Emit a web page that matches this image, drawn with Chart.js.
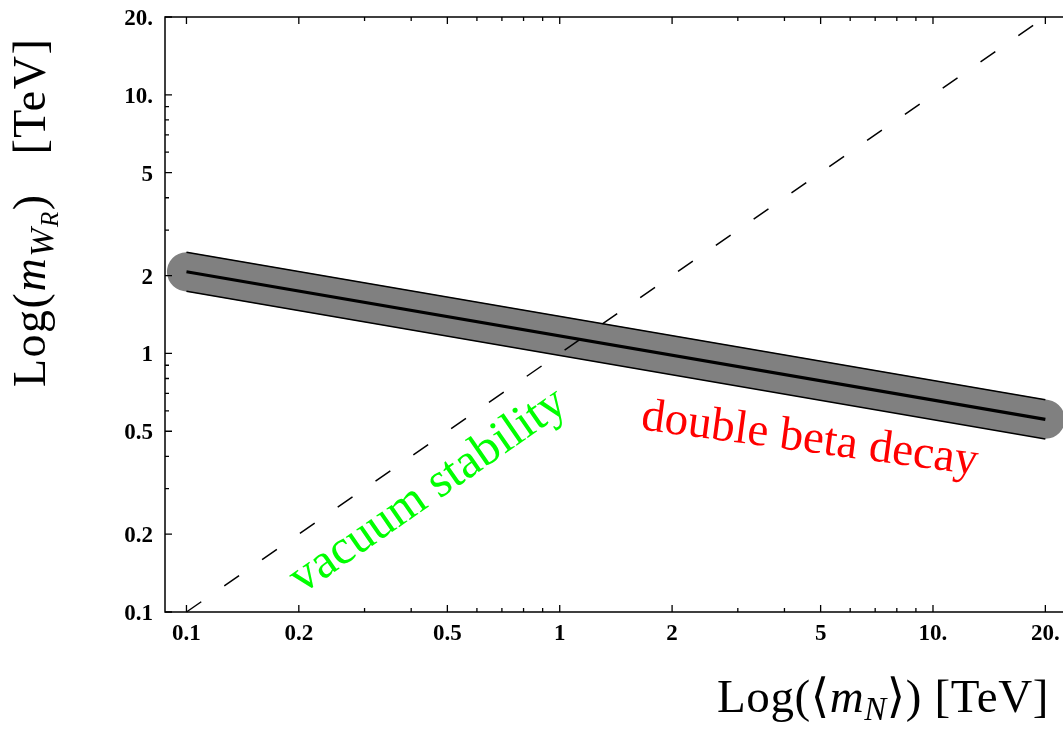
<!DOCTYPE html>
<html>
<head>
<meta charset="utf-8">
<script src="https://cdn.jsdelivr.net/npm/chart.js@4.4.1/dist/chart.umd.min.js"></script>
<style>
  html, body { margin: 0; padding: 0; background: #ffffff; overflow: hidden; }
  canvas { display: block; }
</style>
</head>
<body>
<canvas id="chart" width="1063" height="735"></canvas>
<script>
// Heavy-neutrino mass <m_N> in TeV: ends of the plotted range
const massN = [0.1, 20];
// W_R mass from neutrinoless double beta decay: central curve and band edges (TeV)
const betaCentre = [2.07, 0.556];
const betaUpper = [2.46, 0.662];
const betaLower = [1.74, 0.467];
// Vacuum stability boundary, m_WR = <m_N> (TeV)
const vacuumMass = [0.1, 20];

// Axis ticks (same on both axes)
const majorTicks = [0.1, 0.2, 0.5, 1, 2, 5, 10, 20];
const majorTickLabels = ['0.1', '0.2', '0.5', '1', '2', '5', '10.', '20.'];
const minorTicks = [0.3, 0.4, 0.6, 0.7, 0.8, 0.9, 3, 4, 6, 7, 8, 9];

// Axis limits
const xRange = [0.0876, 22.3];
const yRange = [0.1, 20];

// Region labels: text, colour, anchor (data coords), font size and tilt
const regionLabels = [
  { text: 'vacuum stability', color: '#00ff00', at: [0.204, 0.117], size: 49, followVacuum: true },
  { text: 'double beta decay', color: '#ff0000', at: [1.64, 0.509], size: 47, angle: 7.7 }
];

const pts = (xs, ys) => xs.map((v, i) => ({ x: v, y: ys[i] }));

const SERIF = '"Liberation Serif", "Times New Roman", "DejaVu Serif", serif';

function drawPieces(ctx, pieces) {
  let x = 0;
  for (const p of pieces) {
    ctx.font = p.font;
    ctx.fillText(p.text, x, p.dy || 0);
    x += ctx.measureText(p.text).width + (p.kern || 0);
  }
  return x;
}

const framePlugin = {
  id: 'frameAndText',
  afterDatasetsDraw(chart) {
    const { ctx, chartArea: a, scales: { x, y } } = chart;
    ctx.save();

    // frame: top, left, bottom (right side lies past the canvas edge)
    ctx.strokeStyle = '#000';
    ctx.lineWidth = 1.5;
    ctx.lineCap = 'butt';
    ctx.beginPath();
    ctx.moveTo(a.right + 3, a.top);
    ctx.lineTo(a.left, a.top);
    ctx.lineTo(a.left, a.bottom);
    ctx.lineTo(a.right + 3, a.bottom);
    ctx.stroke();

    // inward tick marks
    const xTick = (v, len) => {
      const px = x.getPixelForValue(v);
      ctx.moveTo(px, a.bottom); ctx.lineTo(px, a.bottom - len);
      ctx.moveTo(px, a.top); ctx.lineTo(px, a.top + len);
    };
    const yTick = (v, len) => {
      const py = y.getPixelForValue(v);
      ctx.moveTo(a.left, py); ctx.lineTo(a.left + len, py);
    };
    ctx.lineWidth = 1.3;
    ctx.beginPath();
    majorTicks.forEach(v => { xTick(v, 7); yTick(v, 7); });
    minorTicks.forEach(v => { xTick(v, 4); yTick(v, 4); });
    ctx.stroke();

    // tick labels
    ctx.fillStyle = '#000';
    ctx.font = 'bold 23px ' + SERIF;
    ctx.textBaseline = 'alphabetic';
    ctx.textAlign = 'center';
    majorTicks.forEach((v, i) => {
      ctx.fillText(majorTickLabels[i], x.getPixelForValue(v), a.bottom + 28);
    });
    ctx.textAlign = 'right';
    majorTicks.forEach((v, i) => {
      ctx.fillText(majorTickLabels[i], a.left - 12, y.getPixelForValue(v) + 8);
    });

    // axis titles
    ctx.textAlign = 'left';
    const rm = s => s + 'px ' + SERIF;
    const it = s => 'italic ' + s + 'px ' + SERIF;
    ctx.save();
    ctx.translate(717, a.bottom + 100);
    try { ctx.letterSpacing = '0.6px'; } catch (e) {}
    drawPieces(ctx, [
      { text: 'Log(', font: rm(47) },
      { text: '\u27E8', font: rm(47) },
      { text: 'm', font: it(47) },
      { text: 'N', font: it(33), dy: 8 },
      { text: '\u27E9', font: rm(47) },
      { text: ') [TeV]', font: rm(47) }
    ]);
    ctx.restore();

    ctx.save();
    ctx.translate(45, 387);
    ctx.rotate(-Math.PI / 2);
    try { ctx.letterSpacing = '1.5px'; } catch (e) {}
    drawPieces(ctx, [
      { text: 'Log(', font: rm(46) },
      { text: 'm', font: it(46) },
      { text: 'W', font: it(34), dy: 8 },
      { text: 'R', font: it(25), dy: 13 },
      { text: ')   [TeV]', font: rm(46) }
    ]);
    ctx.restore();

    // region labels
    regionLabels.forEach(lab => {
      let ang;
      if (lab.followVacuum) {
        const x0 = x.getPixelForValue(vacuumMass[0]), y0 = y.getPixelForValue(vacuumMass[0]);
        const x1 = x.getPixelForValue(vacuumMass[1]), y1 = y.getPixelForValue(vacuumMass[1]);
        ang = Math.atan2(y1 - y0, x1 - x0);
      } else {
        ang = lab.angle * Math.PI / 180;
      }
      ctx.save();
      ctx.translate(x.getPixelForValue(lab.at[0]), y.getPixelForValue(lab.at[1]));
      ctx.rotate(ang);
      ctx.font = rm(lab.size);
      ctx.fillStyle = lab.color;
      ctx.fillText(lab.text, 0, 0);
      ctx.restore();
    });

    ctx.restore();
  }
};

// Datasets earlier in the list are painted on top
new Chart(document.getElementById('chart'), {
  type: 'line',
  data: {
    datasets: [
      { data: pts(vacuumMass, vacuumMass), borderColor: '#000000', borderWidth: 1.5, borderDash: [18, 28] },
      { data: pts(massN, betaCentre), borderColor: '#000000', borderWidth: 3.2 },
      { data: pts(massN, betaUpper), borderColor: '#000000', borderWidth: 1.6 },
      { data: pts(massN, betaLower), borderColor: '#000000', borderWidth: 1.6 },
      { data: pts(massN, betaCentre), borderColor: '#808080', borderWidth: 39, borderCapStyle: 'round' }
    ]
  },
  options: {
    responsive: false,
    animation: false,
    devicePixelRatio: 1,
    layout: { padding: { left: 165, top: 17, right: 0, bottom: 123 } },
    elements: { point: { radius: 0, hoverRadius: 0 }, line: { tension: 0, fill: false } },
    datasets: { line: { clip: false } },
    plugins: { legend: { display: false }, tooltip: { enabled: false } },
    scales: {
      x: { type: 'logarithmic', min: xRange[0], max: xRange[1], display: false },
      y: { type: 'logarithmic', min: yRange[0], max: yRange[1], display: false }
    }
  },
  plugins: [framePlugin]
});
</script>
</body>
</html>
